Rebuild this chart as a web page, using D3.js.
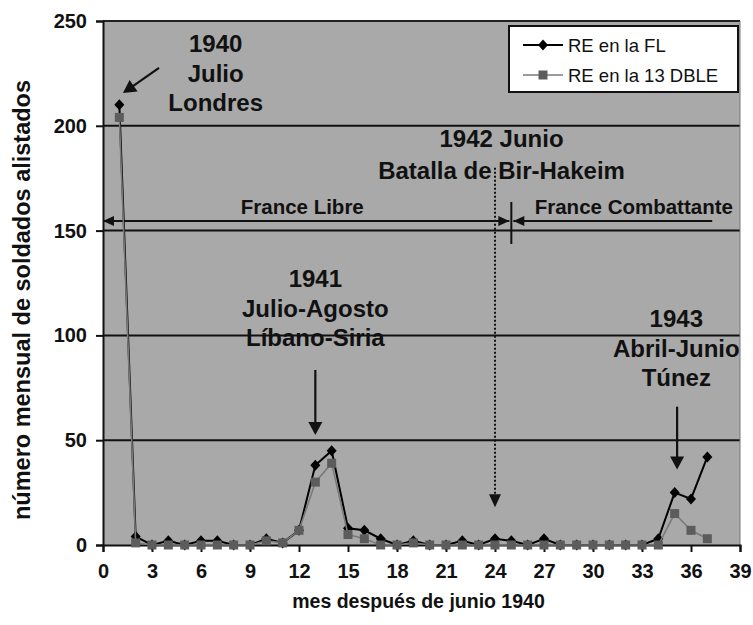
<!DOCTYPE html>
<html><head><meta charset="utf-8">
<script src="https://cdn.jsdelivr.net/npm/d3@7/dist/d3.min.js"></script>
<style>body{margin:0;background:#fff}svg{display:block}</style>
</head><body>
<svg id="c" width="753" height="625"></svg>
<script>
// ---- data ----
const months = d3.range(1, 38);
const seriesFL =   [210,4,0,2,0,2,2,0,0,3,1,7,38,45,8,7,3,0,2,0,0,2,0,3,2,0,3,0,0,0,0,0,0,3,25,22,42];
const seriesDBLE = [204,1,0,0,0,0,0,0,0,2,1,7,30,39,5,3,0,0,1,0,0,0,0,0,0,0,0,0,0,0,0,0,0,0,15,7,3];
const seriesNames = ["RE en la FL", "RE en la 13 DBLE"];
const xTicks = d3.range(0, 40, 3);
const yTicks = [0, 50, 100, 150, 200, 250];
const xTitle = "mes después de junio 1940";
const yTitle = "número mensual de soldados alistados";

const annotations = [
  {lines: ["1940", "Julio", "Londres"], x: 6.9, y: 235},
  {lines: ["1942 Junio", "Batalla de Bir-Hakeim"], x: 24.4, y: 190},
  {lines: ["1941", "Julio-Agosto", "Líbano-Siria"], x: 13.0, y: 123},
  {lines: ["1943", "Abril-Junio", "Túnez"], x: 35.1, y: 104}
];
const arrows = [
  {x1: 3.43, y1: 227.6, x2: 1.22, y2: 215.6, dash: false},
  {x1: 13.0, y1: 83.5, x2: 13.0, y2: 52.5, dash: false},
  {x1: 35.15, y1: 66, x2: 35.15, y2: 36, dash: false},
  {x1: 24.0, y1: 180, x2: 24.0, y2: 18, dash: true}
];
const periods = [
  {label: "France Libre", from: 0, to: 25, both: true, tx: 12.2},
  {label: "France Combattante", from: 37.3, to: 25, both: false, tx: 32.5}
];
const periodY = 154.6;
const dividerX = 25;

// ---- layout ----
const L = 103, R = 740, T = 21, B = 545;
const svg = d3.select("#c");
const font = "'Liberation Sans', Arial, Helvetica, sans-serif";
const x = d3.scaleLinear().domain([0, 39]).range([L, R]);
const y = d3.scaleLinear().domain([0, 250]).range([B, T]);

// plot background
svg.append("rect").attr("x", L).attr("y", T).attr("width", R - L).attr("height", B - T)
  .attr("fill", "#a9a9a9");

// gridlines
svg.append("g").selectAll("line").data(yTicks.filter(d => d > 0 && d < 250)).join("line")
  .attr("x1", L).attr("x2", R).attr("y1", d => y(d)).attr("y2", d => y(d))
  .attr("stroke", "#111").attr("stroke-width", 2);

// border
svg.append("line").attr("x1", L).attr("x2", R).attr("y1", T).attr("y2", T).attr("stroke", "#222").attr("stroke-width", 2);
svg.append("line").attr("x1", R).attr("x2", R).attr("y1", T).attr("y2", B).attr("stroke", "#777").attr("stroke-width", 1);

// axes
const yAxis = d3.axisLeft(y).tickValues(yTicks).tickSize(7).tickPadding(9);
const gy = svg.append("g").attr("transform", `translate(${L},0)`).call(yAxis);
const xAxis = d3.axisBottom(x).tickValues(xTicks).tickSize(7).tickPadding(10);
const gx = svg.append("g").attr("transform", `translate(0,${B})`).call(xAxis);
[gx, gy].forEach(g => {
  g.select(".domain").attr("stroke", "#111").attr("stroke-width", 2);
  g.selectAll(".tick line").attr("stroke", "#111").attr("stroke-width", 2);
  g.selectAll(".tick text").attr("fill", "#111").attr("font-family", font)
    .attr("font-weight", "bold").attr("font-size", 20);
});
gx.selectAll(".tick text").attr("dy", "0.8em");

// axis titles
svg.append("text").attr("x", (L + R) / 2 - 3).attr("y", 608).attr("text-anchor", "middle")
  .attr("font-family", font).attr("font-weight", "bold").attr("font-size", 19.5).attr("fill", "#111")
  .text(xTitle);
svg.append("text").attr("transform", `translate(30,300) rotate(-90)`)
  .attr("text-anchor", "middle").attr("font-family", font).attr("font-weight", "bold")
  .attr("font-size", 23.5).attr("fill", "#111").text(yTitle);

function headPath(tipX, tipY, fromX, fromY, len = 13, half = 6) {
  const a = Math.atan2(tipY - fromY, tipX - fromX);
  const bx = tipX - len * Math.cos(a), by = tipY - len * Math.sin(a);
  const px = -Math.sin(a) * half, py = Math.cos(a) * half;
  return `M${tipX},${tipY}L${bx + px},${by + py}L${bx - px},${by - py}Z`;
}

// annotation arrows
const ga = svg.append("g");
arrows.forEach(a => {
  const x1 = x(a.x1), y1 = y(a.y1), x2 = x(a.x2), y2 = y(a.y2);
  const ang = Math.atan2(y2 - y1, x2 - x1);
  ga.append("line").attr("x1", x1).attr("y1", y1)
    .attr("x2", x2 - 10 * Math.cos(ang)).attr("y2", y2 - 10 * Math.sin(ang))
    .attr("stroke", "#111").attr("stroke-width", a.dash ? 2 : 2.2)
    .attr("stroke-dasharray", a.dash ? "2,2" : null);
  ga.append("path").attr("d", headPath(x2, y2, x1, y1, 13, a.dash ? 6 : 7)).attr("fill", "#111");
});

// period arrows
periods.forEach(p => {
  const x1 = x(p.from), x2 = x(p.to) + (p.both ? -2 : 2), yy = y(periodY);
  ga.append("line").attr("x1", x1).attr("x2", x2).attr("y1", yy).attr("y2", yy)
    .attr("stroke", "#111").attr("stroke-width", 2);
  ga.append("path").attr("d", headPath(x2, yy, x1, yy, 11, 5)).attr("fill", "#111");
  if (p.both) ga.append("path").attr("d", headPath(x1, yy, x2, yy, 11, 5)).attr("fill", "#111");
  ga.append("text").attr("x", x(p.tx)).attr("y", yy - 7).attr("text-anchor", "middle")
    .attr("font-family", font).attr("font-weight", "bold").attr("font-size", 20.5).attr("fill", "#111")
    .text(p.label);
});
ga.append("line").attr("x1", x(dividerX)).attr("x2", x(dividerX))
  .attr("y1", y(periodY) - 19).attr("y2", y(periodY) + 23).attr("stroke", "#111").attr("stroke-width", 2);

// annotation texts
annotations.forEach(a => {
  const t = svg.append("text").attr("text-anchor", "middle").attr("font-family", font)
    .attr("font-weight", "bold").attr("font-size", 24).attr("fill", "#111");
  a.lines.forEach((ln, i) => {
    t.append("tspan").attr("x", x(a.x)).attr("y", y(a.y) + i * (a.lines.length === 2 ? 32 : 29.5)).text(ln);
  });
});

// ---- series ----
const diamond = "M0,-5.5L5,0L0,5.5L-5,0Z";
const square = "M-4.5,-4.5H4.5V4.5H-4.5Z";
const line = d3.line().x((d, i) => x(months[i])).y(d => y(d));
const gs = svg.append("g");
gs.append("path").datum(seriesFL).attr("d", line).attr("fill", "none").attr("stroke", "#000").attr("stroke-width", 2);
gs.append("g").selectAll("path").data(seriesFL).join("path")
  .attr("d", diamond).attr("transform", (d, i) => `translate(${x(months[i])},${y(d)})`).attr("fill", "#000");
gs.append("path").datum(seriesDBLE).attr("d", line).attr("fill", "none").attr("stroke", "#7a7a7a").attr("stroke-width", 1.6);
gs.append("g").selectAll("path").data(seriesDBLE).join("path")
  .attr("d", square).attr("transform", (d, i) => `translate(${x(months[i])},${y(d)})`).attr("fill", "#5c5c5c");

// ---- legend ----
const lg = svg.append("g").attr("transform", "translate(509,26)");
lg.append("rect").attr("width", 229).attr("height", 66).attr("fill", "#fff").attr("stroke", "#111").attr("stroke-width", 2);
const legItems = [
  {name: seriesNames[0], stroke: "#000", sw: 2, shape: diamond, fill: "#000"},
  {name: seriesNames[1], stroke: "#7a7a7a", sw: 1.6, shape: square, fill: "#5c5c5c"}
];
legItems.forEach((it, i) => {
  const yy = 19 + i * 30;
  lg.append("line").attr("x1", 14).attr("x2", 54).attr("y1", yy).attr("y2", yy).attr("stroke", it.stroke).attr("stroke-width", it.sw);
  lg.append("path").attr("d", it.shape).attr("transform", `translate(34,${yy})`).attr("fill", it.fill);
  lg.append("text").attr("x", 59).attr("y", yy + 6.5).attr("font-family", font).attr("font-size", 18.5)
    .attr("fill", "#111").text(it.name);
});
</script>
</body></html>
